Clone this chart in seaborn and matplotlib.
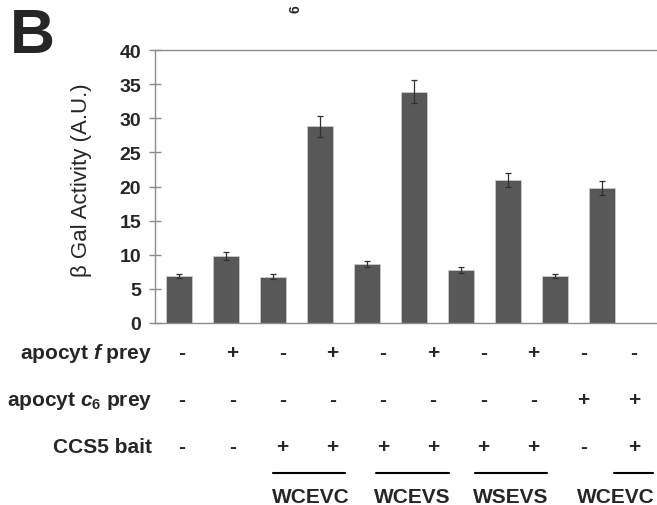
import numpy as np
import pandas as pd
import seaborn as sns
import matplotlib.pyplot as plt
from matplotlib.lines import Line2D

# data
conditions = ['c1', 'c2', 'c3', 'c4', 'c5', 'c6', 'c7', 'c8', 'c9', 'c10']
activity = [6.9, 9.8, 6.8, 28.8, 8.7, 33.9, 7.8, 21.0, 6.9, 19.8]
errors = [0.35, 0.55, 0.35, 1.5, 0.45, 1.65, 0.45, 1.05, 0.35, 1.0]
apocyt_f = ['-', '+', '-', '+', '-', '+', '-', '+', '-', '-']
apocyt_c6 = ['-', '-', '-', '-', '-', '-', '-', '-', '+', '+']
ccs5_bait = ['-', '-', '+', '+', '+', '+', '+', '+', '-', '+']
row_labels = [r'apocyt $\mathit{f}$ prey', r'apocyt $\mathit{c_6}$ prey', 'CCS5 bait']
groups = ['WCEVC', 'WCEVS', 'WSEVS', 'WCEVC']

sns.set_style('white')
plt.rcParams['font.family'] = ['Liberation Sans', 'DejaVu Sans']
plt.rcParams['mathtext.fontset'] = 'custom'
plt.rcParams['mathtext.rm'] = 'Liberation Sans:bold'
plt.rcParams['mathtext.it'] = 'Liberation Sans:italic:bold'
plt.rcParams['mathtext.bf'] = 'Liberation Sans:bold'

W, H = 657, 506
fig = plt.figure(figsize=(W / 100, H / 100), dpi=100)
ax = fig.add_axes([155 / W, (H - 324) / H, (W - 155) / W, 273 / H])

df = pd.DataFrame({'cond': conditions, 'act': activity})
sns.barplot(data=df, x='cond', y='act', color='#585858', width=0.57,
            saturation=1, edgecolor='#d8d8d8', linewidth=0.4, ax=ax)
ax.errorbar(np.arange(len(activity)), activity, yerr=errors, fmt='none',
            ecolor='#303030', elinewidth=0.9, capsize=2, capthick=0.9)

ax.set_xlim(-0.51, 10.17)
ax.set_ylim(0, 40)
ax.set_yticks(range(0, 41, 5))
ax.set_xticks([])
ax.set_xlabel('')
ax.set_ylabel('')
for s in ['left', 'bottom', 'top']:
    ax.spines[s].set_color('#8c8c8c')
    ax.spines[s].set_linewidth(1)
ax.spines['right'].set_visible(False)
ax.tick_params(axis='y', direction='inout', length=8, width=1, color='#8c8c8c',
               left=True, pad=6, labelsize=14)
for t in ax.get_yticklabels():
    t.set_fontweight('bold')

def fx(x):
    return x / W

def fy(y):
    return 1 - y / H

fig.text(fx(82), fy(180), 'β Gal Activity (A.U.)', rotation=90, ha='center',
         va='center', fontsize=16)
fig.text(fx(10), fy(7), 'B', fontsize=45, fontweight='bold', va='top', ha='left')
fig.text(fx(296), fy(9), '6', fontsize=10, fontweight='bold', rotation=90,
         ha='center', va='center')

# condition table under the bars
sym_x = [182 + 50.2 * i for i in range(len(conditions))]
row_y = [359, 406, 453]
for lab, vals, y in zip(row_labels, [apocyt_f, apocyt_c6, ccs5_bait], row_y):
    fig.text(fx(152), fy(y), lab, ha='right', va='baseline', fontsize=15,
             fontweight='bold')
    for x, v in zip(sym_x, vals):
        fig.text(fx(x), fy(y), v, ha='center', va='baseline', fontsize=15,
                 fontweight='bold')

spans = [(273, 345), (376, 449), (475, 547), (614, 653)]
centers = [311, 412, 511, 616]
for (x0, x1), c, g in zip(spans, centers, groups):
    fig.add_artist(Line2D([fx(x0), fx(x1)], [fy(474), fy(474)], color='black',
                          linewidth=1.5, transform=fig.transFigure))
    fig.text(fx(c), fy(503), g, ha='center', va='baseline', fontsize=15,
             fontweight='bold')

fig.savefig('out.png', dpi=100)
